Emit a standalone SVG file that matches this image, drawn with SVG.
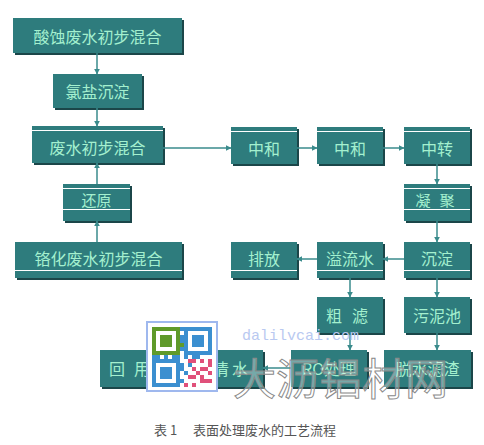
<svg xmlns="http://www.w3.org/2000/svg" width="484" height="445" viewBox="0 0 484 445">
<defs>
<style>
.b{fill:#2e7c7d}
.s{fill:#1b4649}
.t{fill:#a4f0cf;font-family:"Noto Sans CJK SC","Noto Sans",sans-serif;font-size:16px;text-anchor:middle;dominant-baseline:central}
.t2{font-size:15px}
.wl{stroke:#ffffff;stroke-width:1}
.c path{fill:none;stroke:#3a8b8c;stroke-width:1.5;marker-end:url(#ah)}
.cap{fill:#555;font-family:"Noto Sans CJK SC","Noto Sans",sans-serif;font-size:13px}
</style>
<marker id="ah" viewBox="0 0 10 10" refX="9" refY="5" markerWidth="4" markerHeight="4" orient="auto" markerUnits="strokeWidth">
<path d="M0,0 L10,5 L0,10 z" fill="#3a8b8c"/>
</marker>
</defs>
<rect width="484" height="445" fill="#ffffff"/>

<g id="n1"><rect class="s" x="15" y="20" width="169" height="35"/><rect class="b" x="13" y="18" width="169" height="35"/><text class="t" x="97.5" y="36">酸蚀废水初步混合</text></g>
<g id="n2"><rect class="s" x="55" y="76" width="89" height="34"/><rect class="b" x="53" y="74" width="89" height="34"/><text class="t" x="97.5" y="91">氯盐沉淀</text></g>
<g id="n3"><rect class="s" x="34" y="128" width="131" height="37"/><rect class="b" x="32" y="126" width="131" height="37"/><line class="wl" x1="32" y1="130.5" x2="163" y2="130.5"/><text class="t" x="97.5" y="147">废水初步混合</text></g>
<g id="n4"><rect class="s" x="233" y="129" width="66" height="37"/><rect class="b" x="231" y="127" width="66" height="37"/><line class="wl" x1="231" y1="131.5" x2="297" y2="131.5"/><text class="t" x="264" y="148">中和</text></g>
<g id="n5"><rect class="s" x="319" y="129" width="66" height="37"/><rect class="b" x="317" y="127" width="66" height="37"/><line class="wl" x1="317" y1="131.5" x2="383" y2="131.5"/><text class="t" x="350" y="148">中和</text></g>
<g id="n6"><rect class="s" x="406" y="129" width="66" height="37"/><rect class="b" x="404" y="127" width="66" height="37"/><line class="wl" x1="404" y1="131.5" x2="470" y2="131.5"/><text class="t" x="437" y="148">中转</text></g>
<g id="n7"><rect class="s" x="65" y="186" width="67" height="37"/><rect class="b" x="63" y="184" width="67" height="37"/><line class="wl" x1="63" y1="188.5" x2="130" y2="188.5"/><line class="wl" x1="63" y1="209.5" x2="130" y2="209.5"/><text class="t t2" x="96.5" y="199">还原</text></g>
<g id="n8"><rect class="s" x="406" y="186" width="66" height="37"/><rect class="b" x="404" y="184" width="66" height="37"/><line class="wl" x1="404" y1="188.5" x2="470" y2="188.5"/><line class="wl" x1="404" y1="209.5" x2="470" y2="209.5"/><text class="t t2" x="423 447" y="199">凝聚</text></g>
<g id="n9"><rect class="s" x="17" y="244" width="167" height="36"/><rect class="b" x="15" y="242" width="167" height="36"/><line class="wl" x1="15" y1="270.5" x2="182" y2="270.5"/><text class="t" x="98.5" y="258">铬化废水初步混合</text></g>
<g id="n10"><rect class="s" x="233" y="244" width="66" height="36"/><rect class="b" x="231" y="242" width="66" height="36"/><line class="wl" x1="231" y1="270.5" x2="297" y2="270.5"/><text class="t" x="264" y="258">排放</text></g>
<g id="n11"><rect class="s" x="319" y="244" width="66" height="36"/><rect class="b" x="317" y="242" width="66" height="36"/><line class="wl" x1="317" y1="270.5" x2="383" y2="270.5"/><text class="t" x="350" y="258">溢流水</text></g>
<g id="n12"><rect class="s" x="406" y="244" width="66" height="36"/><rect class="b" x="404" y="242" width="66" height="36"/><line class="wl" x1="404" y1="270.5" x2="470" y2="270.5"/><text class="t" x="437" y="258">沉淀</text></g>
<g id="n13"><rect class="s" x="319" y="299" width="66" height="36"/><rect class="b" x="317" y="297" width="66" height="36"/><text class="t" x="334 360" y="315">粗滤</text></g>
<g id="n14"><rect class="s" x="406" y="299" width="66" height="36"/><rect class="b" x="404" y="297" width="66" height="36"/><text class="t" x="437" y="315">污泥池</text></g>
<g id="n15"><rect class="s" x="102" y="352" width="163" height="37"/><rect class="b" x="100" y="350" width="163" height="37"/><text class="t" x="117 142 221 240" y="368">回用清水</text></g>
<g id="n16"><rect class="s" x="293" y="352" width="76" height="37"/><rect class="b" x="291" y="350" width="76" height="37"/><text class="t" x="329" y="368">RO处理</text></g>
<g id="n17"><rect class="s" x="386" y="352" width="87" height="37"/><rect class="b" x="384" y="350" width="87" height="37"/><text class="t" x="427.5" y="368">脱水滤渣</text></g>

<g id="connectors" class="c">
<path d="M97,53 V74"/>
<path d="M97,108 V126"/>
<path d="M97,184 V163"/>
<path d="M97,242 V221"/>
<path d="M163,148 H231"/>
<path d="M297,148 H317"/>
<path d="M383,148 H404"/>
<path d="M437,164 V184"/>
<path d="M437,221 V242"/>
<path d="M404,259 H383"/>
<path d="M317,259 H297"/>
<path d="M350,278 V297"/>
<path d="M437,278 V297"/>
<path d="M350,333 V350"/>
<path d="M437,333 V350"/>
<path d="M291,368 H263"/>
</g>

<g id="watermark">
<rect x="147" y="322" width="70" height="69" fill="#ffffff" stroke="#9fb8ee" stroke-width="2"/>
<g fill="none" stroke-width="4">
<rect x="154" y="329" width="24" height="24" stroke="#5f9a2a"/>
<rect x="186" y="329" width="24" height="24" stroke="#3b8fd0"/>
<rect x="154" y="361" width="24" height="24" stroke="#3b8fd0"/>
</g>
<rect x="160" y="335" width="12" height="12" fill="#5f9a2a"/>
<rect x="192" y="335" width="12" height="12" fill="#3b8fd0"/>
<rect x="160" y="367" width="12" height="12" fill="#3b8fd0"/>
<g fill="#3b8fd0">
<rect x="180" y="327" width="4" height="4"/><rect x="180" y="335" width="4" height="8"/><rect x="180" y="347" width="4" height="4"/>
<rect x="152" y="355" width="8" height="4"/><rect x="164" y="355" width="4" height="4"/><rect x="172" y="355" width="8" height="4"/>
<rect x="184" y="355" width="4" height="4"/><rect x="192" y="355" width="8" height="4"/><rect x="180" y="363" width="4" height="8"/>
<rect x="188" y="363" width="4" height="4"/><rect x="184" y="371" width="4" height="4"/><rect x="180" y="379" width="4" height="4"/>
</g>
<g fill="#5f9a2a">
<rect x="152" y="351" width="4" height="4"/><rect x="176" y="351" width="4" height="4"/><rect x="180" y="343" width="4" height="4"/>
</g>
<g fill="#e0507a">
<rect x="188" y="359" width="8" height="4"/><rect x="200" y="359" width="4" height="4"/><rect x="208" y="359" width="4" height="8"/>
<rect x="192" y="367" width="4" height="4"/><rect x="200" y="367" width="8" height="4"/><rect x="188" y="375" width="8" height="4"/>
<rect x="200" y="375" width="4" height="8"/><rect x="208" y="371" width="4" height="4"/><rect x="192" y="383" width="4" height="4"/>
<rect x="204" y="379" width="8" height="4"/><rect x="184" y="383" width="4" height="4"/><rect x="196" y="371" width="4" height="4"/>
</g>
<text x="242" y="340" fill="#b9c9f1" font-family="Liberation Mono, monospace" font-size="15">dalilvcai.com</text>
<text x="233" y="395" fill="#ffffff" fill-opacity="0.35" stroke="#8a8a8a" stroke-width="1" font-family="Noto Sans CJK SC, sans-serif" font-size="43">大沥铝材网</text>
</g>

<text class="cap" x="154" y="435">表 1</text>
<text class="cap" x="193" y="435">表面处理废水的工艺流程</text>
</svg>
